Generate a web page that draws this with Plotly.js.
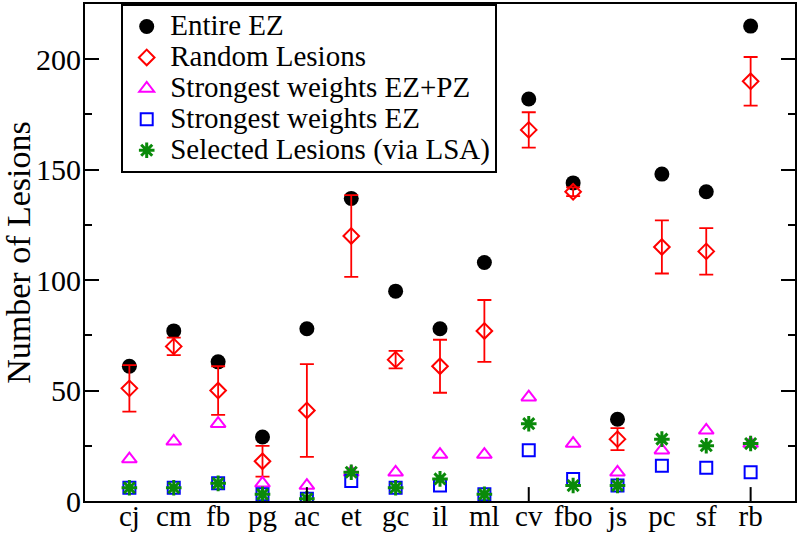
<!DOCTYPE html>
<html>
<head>
<meta charset="utf-8">
<script src="https://cdn.plot.ly/plotly-3.0.1.min.js"></script>
<style>html,body{margin:0;padding:0;background:#fff;}#chart{width:800px;height:534px;}</style>
</head>
<body>
<div id="chart"></div>
<script>
const categories = ['cj','cm','fb','pg','ac','et','gc','il','ml','cv','fbo','js','pc','sf','rb'];
const entireEZ = [61,77,63,29,78,137,95,78,108,182,144,37,148,140,215];
const randomLesions = [51,70,50,18,41,120,64,61,77,168,140,28,115,113,190];
const randomErr = [10.5,4,11,7,21,18.5,4,12,14,8,2,5,12,10.5,11];
const strongestEZPZ = [19,27,35,8,7,13,13,21,21,47,26,13,23,32,26];
const strongestEZ = [6,6,8,3,1,9,6,7,3,23,10,7,16,15,13];
const selectedLSA = [6,6,8,3,1,13,6,10,3,35,7,7,28,25,26];
const xMajorTicks = [5,10,15];
const seriesNames = ['Entire EZ','Random Lesions','Strongest weights EZ+PZ','Strongest weights EZ','Selected Lesions (via LSA)'];

const xs = categories.map((c,i)=>i+1);
const FONT = 'Liberation Serif, Times New Roman, serif';
const legendName = s => '<span style="font-size:29px">' + s + '</span>';

const traces = [
  {x: xs, y: entireEZ, name: legendName(seriesNames[0]), type: 'scatter', mode: 'markers',
   marker: {symbol: 'circle', size: 15, color: '#000000'}},
  {x: xs, y: randomLesions, name: legendName(seriesNames[1]), type: 'scatter', mode: 'markers',
   marker: {symbol: 'diamond-open', size: 12, color: '#ff0000', line: {width: 2, color: '#ff0000'}},
   error_y: {type: 'data', array: randomErr, visible: true, color: '#ff0000', thickness: 1.8, width: 7}},
  {x: xs, y: strongestEZPZ, name: legendName(seriesNames[2]), type: 'scatter', mode: 'markers',
   marker: {symbol: 'triangle-up-open', size: 13, color: '#ff00ff', line: {width: 2, color: '#ff00ff'}}},
  {x: xs, y: strongestEZ, name: legendName(seriesNames[3]), type: 'scatter', mode: 'markers',
   marker: {symbol: 'square-open', size: 12, color: '#0000ff', line: {width: 2, color: '#0000ff'}}},
  {x: xs, y: selectedLSA, name: legendName(seriesNames[4]), type: 'scatter', mode: 'markers',
   marker: {symbol: 'asterisk-open', size: 13, color: '#0a8a0a', line: {width: 3, color: '#0a8a0a'}}}
];

// major x tick marks (inside, at every 5th category), drawn as axis decorations
const tickShapes = xMajorTicks.map(v => ({
  type: 'line', xref: 'x', yref: 'paper', x0: v, x1: v, y0: 0, y1: 0.028,
  line: {color: '#000000', width: 2}, layer: 'above'
}));

const layout = {
  width: 800, height: 534,
  margin: {l: 85, r: 5, t: 4, b: 33},
  paper_bgcolor: '#ffffff', plot_bgcolor: '#ffffff',
  font: {family: FONT, color: '#000000', size: 28},
  showlegend: true,
  legend: {
    x: 0.051, y: 1, xanchor: 'left', yanchor: 'top',
    bgcolor: '#ffffff', bordercolor: '#000000', borderwidth: 2,
    font: {family: FONT, size: 21.5, color: '#000000'},
    itemwidth: 37, tracegroupgap: 0
  },
  shapes: tickShapes,
  xaxis: {
    range: [0, 16], tickmode: 'array', tickvals: xs, ticktext: categories,
    ticks: '', showgrid: false, zeroline: false, ticklabelstandoff: -12,
    showline: true, linecolor: '#000000', linewidth: 2, mirror: true,
    tickfont: {family: FONT, size: 29, color: '#000000'}
  },
  yaxis: {
    range: [0, 225], tickmode: 'linear', tick0: 0, dtick: 50,
    ticks: 'inside', ticklen: 14, tickwidth: 2, tickcolor: '#000000',
    minor: {ticks: 'inside', ticklen: 7, tickwidth: 2, tickcolor: '#000000', dtick: 25, tick0: 0, showgrid: false},
    showgrid: false, zeroline: false, ticklabelstandoff: -4,
    showline: true, linecolor: '#000000', linewidth: 2, mirror: 'ticks',
    tickfont: {family: FONT, size: 30, color: '#000000'},
    title: {text: 'Number of Lesions', font: {family: FONT, size: 34, color: '#000000'}, standoff: 0}
  }
};

Plotly.newPlot('chart', traces, layout, {displayModeBar: false, staticPlot: true});
</script>
</body>
</html>
